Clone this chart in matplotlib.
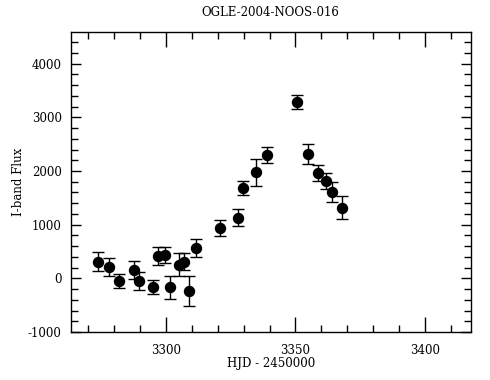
import matplotlib
matplotlib.use("Agg")
import matplotlib.pyplot as plt
from matplotlib.ticker import MultipleLocator

hjd = [3273.9, 3277.9, 3281.7, 3287.6, 3289.7, 3294.9, 3296.8, 3299.7, 3301.7,
       3304.9, 3306.8, 3308.9, 3311.7, 3320.7, 3327.9, 3329.8, 3334.9, 3338.9,
       3350.7, 3354.8, 3358.8, 3362.0, 3364.0, 3367.8]
flux = [309, 216, -45, 155, -50, -168, 416, 434, -168,
        253, 309, -231, 574, 932, 1130, 1683, 1981, 2304,
        3286, 2311, 1957, 1814, 1603, 1316]
err = [181, 168, 130, 168, 168, 130, 161, 152, 214,
       211, 155, 280, 168, 149, 158, 130, 252, 149,
       130, 186, 149, 158, 183, 214]

title = "OGLE-2004-NOOS-016"
xlabel = "HJD - 2450000"
ylabel = "I-band Flux"

plt.rcParams['font.family'] = ['DejaVu Serif']
plt.rcParams['axes.unicode_minus'] = False
fig = plt.figure(figsize=(4.9, 3.8), dpi=100)
ax = fig.add_axes([70.7/490, 48/380, 400/490, 299.7/380])

ax.errorbar(hjd, flux, yerr=err, fmt='o', color='black', ms=7.2,
            elinewidth=1, capsize=4, capthick=1)

ax.set_xlim(3263.2, 3417.7)
ax.set_ylim(-1000, 4585)
ax.xaxis.set_major_locator(MultipleLocator(50))
ax.xaxis.set_minor_locator(MultipleLocator(10))
ax.yaxis.set_major_locator(MultipleLocator(1000))
ax.yaxis.set_minor_locator(MultipleLocator(200))
ax.tick_params(which='both', direction='in', top=True, right=True,
               labelsize=8.5, width=1, color='black')
ax.tick_params(axis='x', which='major', length=11, pad=8.5)
ax.tick_params(axis='x', which='minor', length=5)
ax.tick_params(axis='y', which='major', length=7, pad=6.5)
ax.tick_params(axis='y', which='minor', length=5)
for s in ax.spines.values():
    s.set_linewidth(1)

fig.text(0.5 * (70.7 + 470.7) / 490, 1 - 12/380, title, ha='center', va='center', fontsize=8.5)
ax.set_xlabel(xlabel, fontsize=8.5)
ax.xaxis.set_label_coords(0.5, -(357 - 332) / 299.7)
ax.set_ylabel(ylabel, fontsize=8.5)
ax.yaxis.set_label_coords(-(70.7 - 25) / 400, 0.5)

fig.savefig("out.png", dpi=100)
